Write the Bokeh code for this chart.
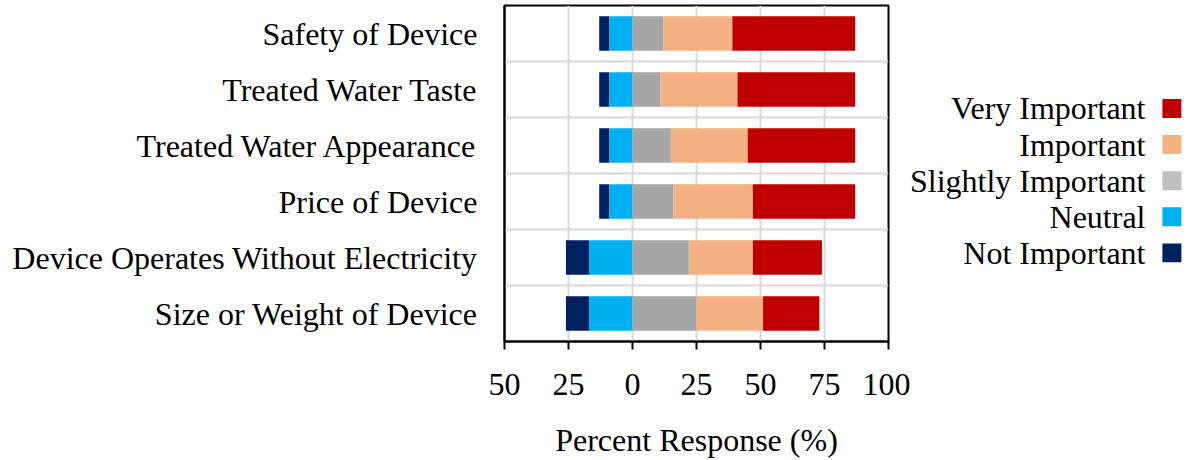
import numpy as np
from bokeh.plotting import figure
from bokeh.layouts import row
from bokeh.models import FixedTicker, Range1d, CustomJSTickFormatter, ColumnDataSource
from bokeh.core.properties import value
from bokeh.embed import file_html
from bokeh.resources import INLINE

# ---------------- data ----------------
categories = [
    "Safety of Device",
    "Treated Water Taste",
    "Treated Water Appearance",
    "Price of Device",
    "Device Operates Without Electricity",
    "Size or Weight of Device",
]
not_important = [4, 4, 4, 4, 9, 9]
neutral = [9, 9, 9, 9, 17, 17]
slightly_important = [12, 11, 15, 16, 22, 25]
important = [27, 30, 30, 31, 25, 26]
very_important = [48, 46, 42, 40, 27, 22]

series_names = ["Very Important", "Important", "Slightly Important", "Neutral", "Not Important"]
bar_colors = {"Very Important": "#C00000", "Important": "#F4B183",
              "Slightly Important": "#A6A6A6", "Neutral": "#00B0F0",
              "Not Important": "#002060"}
legend_colors = ["#C00000", "#F4B183", "#BFBFBF", "#00B0F0", "#002060"]
x_ticks = [-50, -25, 0, 25, 50, 75, 100]
x_label = "Percent Response (%)"

FONT = "Liberation Serif"
FS = "32px"

n = len(categories)
y = np.array([n - 1 - i + 0.5 for i in range(n)])

ni = np.array(not_important, float)
ne = np.array(neutral, float)
sl = np.array(slightly_important, float)
im = np.array(important, float)
vi = np.array(very_important, float)

segments = [
    ("Not Important", -(ne + ni), -ne),
    ("Neutral", -ne, np.zeros(n)),
    ("Slightly Important", np.zeros(n), sl),
    ("Important", sl, sl + im),
    ("Very Important", sl + im, sl + im + vi),
]

TOP, BOTTOM = 5, 118
MAIN_W, LEG_W, H = 910, 280, 460

p = figure(width=MAIN_W, height=H, x_range=Range1d(-50, 100), y_range=Range1d(0, n),
           output_backend="svg", toolbar_location=None,
           min_border_left=504, min_border_right=22, min_border_top=TOP, min_border_bottom=BOTTOM)

for name, l, r in segments:
    p.hbar(y=y, left=l, right=r, height=0.62, color=bar_colors[name], line_color=None)

# x axis
p.xaxis.ticker = FixedTicker(ticks=x_ticks)
p.xaxis.formatter = CustomJSTickFormatter(code="return String(Math.abs(tick));")
p.xaxis.axis_label = x_label
p.xaxis.axis_label_text_font = FONT
p.xaxis.axis_label_text_font_size = FS
p.xaxis.axis_label_text_font_style = "normal"
p.xaxis.axis_label_text_color = "black"
p.xaxis.axis_label_standoff = 24
p.xaxis.major_label_text_font = FONT
p.xaxis.major_label_text_font_size = FS
p.xaxis.major_label_text_color = "black"
p.xaxis.major_label_standoff = 24
p.xaxis.major_tick_out = 8
p.xaxis.major_tick_in = 0
p.xaxis.minor_tick_out = 0
p.xaxis.minor_tick_in = 0
p.xaxis.axis_line_color = "black"
p.xaxis.axis_line_width = 2
p.xaxis.major_tick_line_color = "black"
p.xaxis.major_tick_line_width = 2

# y axis
p.yaxis.ticker = FixedTicker(ticks=list(y))
p.yaxis.major_label_overrides = {float(v): c for v, c in zip(y, categories)}
p.yaxis.major_label_text_font = FONT
p.yaxis.major_label_text_font_size = FS
p.yaxis.major_label_text_color = "black"
p.yaxis.major_label_standoff = 27
p.yaxis.major_tick_out = 0
p.yaxis.major_tick_in = 0
p.yaxis.minor_tick_out = 0
p.yaxis.minor_tick_in = 0
p.yaxis.axis_line_color = "black"
p.yaxis.axis_line_width = 2

# grids
p.xgrid.ticker = FixedTicker(ticks=x_ticks)
p.xgrid.grid_line_color = "#D9D9D9"
p.xgrid.grid_line_width = 2
p.ygrid.ticker = FixedTicker(ticks=list(range(1, n)))
p.ygrid.grid_line_color = "#D9D9D9"
p.ygrid.grid_line_width = 2

p.outline_line_color = "black"
p.outline_line_width = 2
p.background_fill_color = "white"
p.border_fill_color = "white"

# ---------------- legend panel (ranges in page pixels) ----------------
lp = figure(width=LEG_W, height=H,
            x_range=Range1d(MAIN_W, MAIN_W + LEG_W),
            y_range=Range1d(H - BOTTOM, TOP),
            output_backend="svg", toolbar_location=None,
            min_border_left=0, min_border_right=0,
            min_border_top=TOP, min_border_bottom=BOTTOM)
lp.axis.visible = False
lp.grid.visible = False
lp.outline_line_color = None

top_y = 108.3
spacing = 36.2
k = len(series_names)
ly = [top_y + i * spacing for i in range(k)]
src = ColumnDataSource(dict(x=[1145] * k, sx=[1171.4] * k, y=ly, text=series_names,
                            color=legend_colors))
lp.text(x="x", y="y", text="text", source=src, text_align="right", text_baseline="middle",
        text_font=value(FONT), text_font_size=FS, text_color="black")
lp.rect(x="sx", y="y", width=19, height=19, source=src, fill_color="color", line_color=None)

layout = row(p, lp)
open("out.html", "w").write(file_html(layout, INLINE))
